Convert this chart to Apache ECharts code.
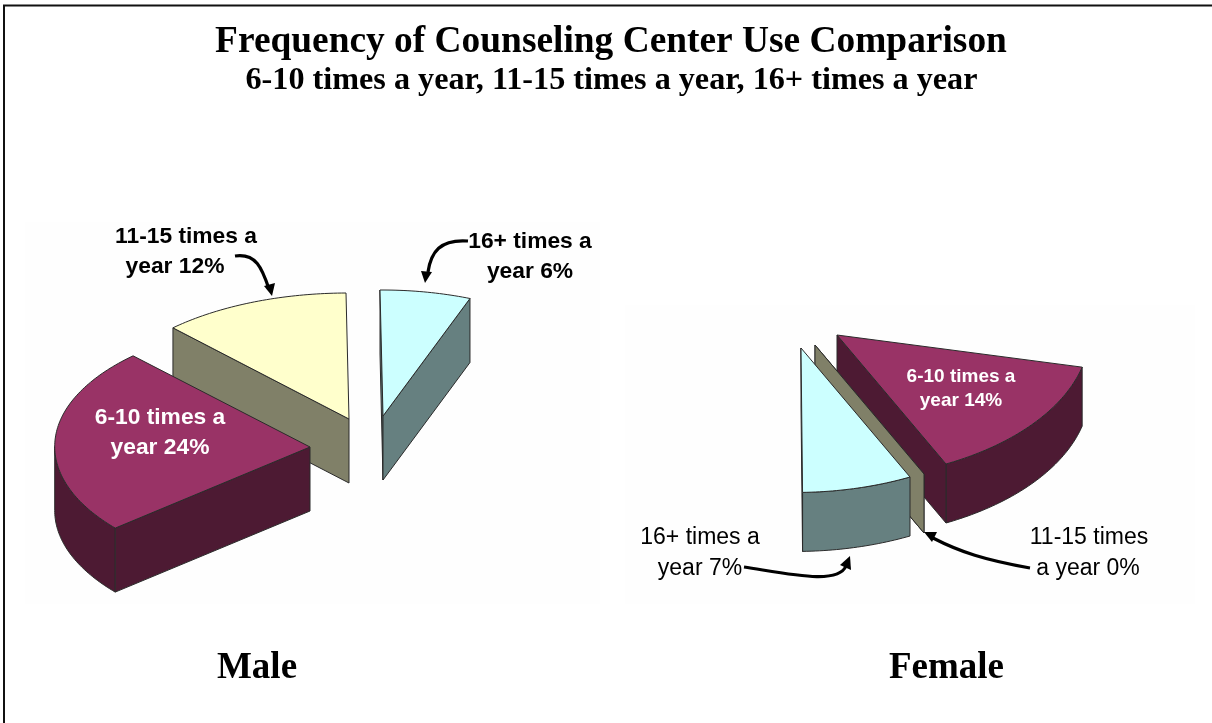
<!DOCTYPE html>
<html><head><meta charset="utf-8">
<style>html,body{margin:0;padding:0;background:#fff}#c{width:1212px;height:723px}</style>
<script src="https://cdn.jsdelivr.net/npm/echarts@6/dist/echarts.min.js"></script>
</head><body><div id="c"></div>
<script>
// ---- data ----
const categories = ['6-10 times a year', '11-15 times a year', '16+ times a year'];
const maleValues = [24, 12, 6];
const femaleValues = [14, 0, 7];
const maleLabels = [['6-10 times a', 'year 24%'], ['11-15 times a', 'year 12%'], ['16+ times a', 'year 6%']];
const femaleLabels = [['6-10 times a', 'year 14%'], ['11-15 times', 'a year 0%'], ['16+ times a', 'year 7%']];
const titleText = 'Frequency of Counseling Center Use Comparison';
const subtitleText = '6-10 times a year, 11-15 times a year, 16+ times a year';
const groupNames = ['Male', 'Female'];

// ---- styles ----
const topColors = ['#993366', '#FFFFCC', '#CCFFFF'];
const sideColors = ['#4D1A33', '#808068', '#668080'];
const edge = '#2b2b2b';
const DEG_PER_PERCENT = 3.6;

// ---- layout: oblique projection of each pie, and each slice's explosion ----
const malePose = {
  u: [-3, -126], v: [254, -1], vScale: [1.005, 1, 0.96], depth: 64,
  apex: [[310, 447], [349, 419], [383, 416]], z: [3, 1, 2]
};
const femalePose = {
  u: [109, 129], v: [-228, 65], vScale: [1, 1, 1], depth: 59,
  apex: [[837, 335], [815, 345], [801, 348]], z: [1, 2, 3]
};

function pieSeries(name, values, pose) {
  const startAngle = -(values[0] + values[1]) * DEG_PER_PERCENT;
  return {
    type: 'custom', name: name, coordinateSystem: 'none', silent: true,
    data: values.map(function (v) { return [v]; }),
    renderItem: function (params, api) {
      const i = params.dataIndex;
      const val = api.value(0);
      let before = 0;
      for (let k = 0; k < i; k++) before += values[k];
      const t0 = (startAngle + before * DEG_PER_PERCENT) * Math.PI / 180;
      const sweep = val * DEG_PER_PERCENT * Math.PI / 180;
      const a = pose.apex[i];
      const d = pose.depth;
      const vs = pose.vScale[i];
      const at = function (t) {
        return [a[0] + pose.u[0] * Math.cos(t) + vs * pose.v[0] * Math.sin(t),
                a[1] + pose.u[1] * Math.cos(t) + vs * pose.v[1] * Math.sin(t)];
      };
      const rim = [];
      const n = Math.max(2, Math.round(sweep * 60));
      for (let s = 0; s <= n; s++) rim.push(at(t0 + sweep * s / n));
      const down = function (p) { return [p[0], p[1] + d]; };
      const inner = at(t0 + sweep / 2);
      const cutFace = function (p) { return [a, p, down(p), down(a)]; };
      const visible = function (p) {
        if (sweep === 0) return true;
        // normal of the cut edge, pointing away from the slice's interior
        let nx = -(p[1] - a[1]), ny = p[0] - a[0];
        if (nx * (inner[0] - a[0]) + ny * (inner[1] - a[1]) > 0) { nx = -nx; ny = -ny; }
        return ny > 0;
      };
      const z = pose.z[i] * 10;
      const shape = function (pts, fill, zz) {
        return { type: 'polygon', shape: { points: pts }, z2: z + zz,
          style: { fill: fill, stroke: edge, lineWidth: 1, lineJoin: 'round' } };
      };
      const children = [];
      // outer wall: only the runs of the rim that face the viewer
      if (sweep > 0) {
        let run = [];
        const flush = function () {
          if (run.length > 1) children.push(shape(run.concat(run.slice().reverse().map(down)), sideColors[i], 0));
          run = [];
        };
        for (let s = 0; s < rim.length - 1; s++) {
          const p = rim[s], q = rim[s + 1];
          let nx = -(q[1] - p[1]), ny = q[0] - p[0];
          if (nx * (p[0] - a[0]) + ny * (p[1] - a[1]) < 0) { nx = -nx; ny = -ny; }
          if (ny > 0) {
            if (!run.length) run.push(p);
            run.push(q);
          } else flush();
        }
        flush();
      }
      [rim[0], rim[rim.length - 1]].forEach(function (p) {
        if (visible(p)) children.push(shape(cutFace(p), sideColors[i], 1));
      });
      if (sweep > 0) children.push(shape([a].concat(rim), topColors[i], 2));
      return { type: 'group', children: children };
    }
  };
}

function text(t, x, y, font, fill) {
  return { type: 'text', z: 20, silent: true,
    style: { text: t, x: x, y: y, font: font, fill: fill || '#000', align: 'center', verticalAlign: 'middle' } };
}
function arrow(b, tipBase) {
  return [
    { type: 'bezierCurve', z: 19, silent: true,
      shape: { x1: b[0][0], y1: b[0][1], cpx1: b[1][0], cpy1: b[1][1], cpx2: b[2][0], cpy2: b[2][1], x2: b[3][0], y2: b[3][1] },
      style: { stroke: '#000', lineWidth: 3.2, fill: null } },
    { type: 'polygon', z: 19, silent: true, shape: { points: tipBase }, style: { fill: '#000' } }
  ];
}
const BOLD = 'bold 22.8px "Liberation Sans"';
const REG = '23px "Liberation Sans"';
const SMALLBOLD = 'bold 19px "Liberation Sans"';
const WHITEISH = '#FFFFFF';

const graphics = [
  { type: 'rect', z: 0, silent: true, shape: { x: 25, y: 222, width: 575, height: 382 }, style: { fill: '#FEFEFE' } },
  { type: 'rect', z: 0, silent: true, shape: { x: 625, y: 305, width: 570, height: 299 }, style: { fill: '#FEFEFE' } },
  { type: 'line', z: 1, silent: true, shape: { x1: 3, y1: 5.5, x2: 1212, y2: 5.5 }, style: { stroke: '#111', lineWidth: 2 } },
  { type: 'line', z: 1, silent: true, shape: { x1: 4, y1: 5, x2: 4, y2: 723 }, style: { stroke: '#111', lineWidth: 2 } },
  text(titleText, 611, 42, 'bold 37.4px "Liberation Serif"'),
  text(subtitleText, 611.5, 81, 'bold 32.2px "Liberation Serif"'),
  text(groupNames[0], 257, 668, 'bold 37px "Liberation Serif"'),
  text(groupNames[1], 946.5, 668, 'bold 37px "Liberation Serif"'),
  text(maleLabels[1][0], 186, 237, BOLD),
  text(maleLabels[1][1], 175, 267, BOLD),
  text(maleLabels[2][0], 530, 242, BOLD),
  text(maleLabels[2][1], 530, 272, BOLD),
  text(maleLabels[0][0], 160, 418, BOLD, WHITEISH),
  text(maleLabels[0][1], 160, 448, BOLD, WHITEISH),
  text(femaleLabels[0][0], 961, 377, SMALLBOLD, WHITEISH),
  text(femaleLabels[0][1], 961, 401, SMALLBOLD, WHITEISH),
  text(femaleLabels[2][0], 700, 538, REG),
  text(femaleLabels[2][1], 700, 569, REG),
  text(femaleLabels[1][0], 1089, 538, REG),
  text(femaleLabels[1][1], 1088, 569, REG)
].concat(
  arrow([[235, 256], [256, 253], [262, 268], [269, 289]], [[272, 296], [264, 286], [275, 283]]),
  arrow([[468, 241], [440, 239], [431, 252], [428, 272]], [[425, 283], [421, 271], [432, 272]]),
  arrow([[744, 567], [790, 574], [838, 585], [846, 566]], [[850, 556], [840, 565], [851, 570]]),
  arrow([[1030, 568], [985, 560], [960, 552], [933, 538]], [[924, 532], [937, 532], [932, 542]])
);

const chart = echarts.init(document.getElementById('c'), null, { renderer: 'canvas' });
chart.setOption({
  animation: false,
  backgroundColor: '#FFFFFF',
  graphic: { elements: graphics },
  series: [pieSeries('Male', maleValues, malePose), pieSeries('Female', femaleValues, femalePose)]
});
</script></body></html>
